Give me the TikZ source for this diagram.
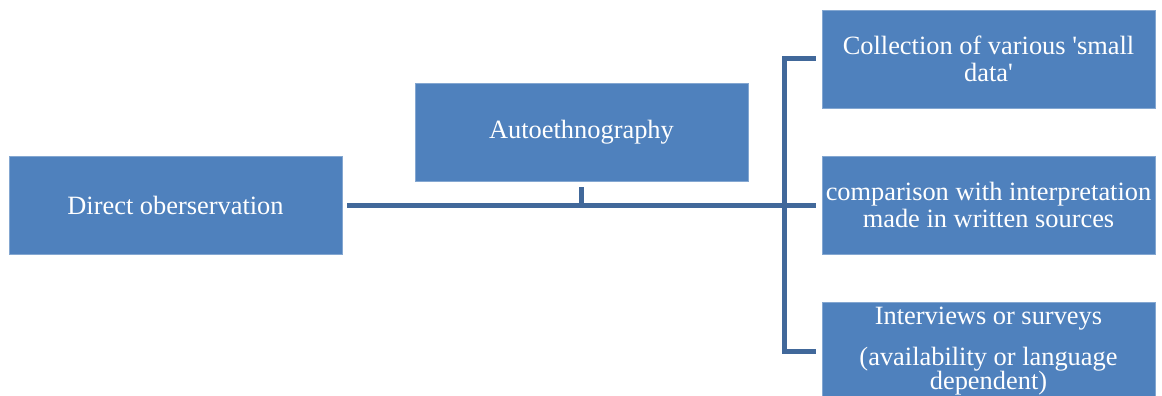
\documentclass[tikz,border=0pt]{standalone}
\usepackage{fontspec}
\setmainfont{Liberation Serif}
\definecolor{boxblue}{HTML}{4F81BD}
\definecolor{lineblue}{HTML}{41689A}
\tikzset{
  box/.style={draw=boxblue!70!white, line width=0.6pt, fill=boxblue, text=white,
    minimum width=333pt, minimum height=98pt, inner sep=2pt, align=center,
    font=\fontsize{26.4}{27}\selectfont},
  conn/.style={draw=lineblue, line width=5pt},
}
\begin{document}
\begin{tikzpicture}[x=1pt,y=-1pt]
\clip (0,0) rectangle (1162,396);
\fill[white] (0,0) rectangle (1162,396);
\node[box] (dobs) at (175.5,205) {Direct oberservation};
\node[box] (auto) at (581.5,132) {Autoethnography};
\node[box] (top) at (988.5,59) {Collection of various \textquotesingle small\\data\textquotesingle};
\node[box] (mid) at (988.5,205) {comparison with interpretation\\made in written sources};
\node[box] (bot) at (988.5,351) {Interviews or surveys\\[14pt](availability or language\\[-3pt]dependent)};
\draw[conn] ([xshift=5pt]dobs.east) -- ([xshift=-6pt]mid.west);
\draw[conn] ([yshift=-6pt]auto.south) -- (auto.south |- dobs.east);
\draw[conn] ([xshift=-6pt]top.west) -| ([xshift=-37pt]bot.west) -- ([xshift=-6pt]bot.west);
\end{tikzpicture}
\end{document}
